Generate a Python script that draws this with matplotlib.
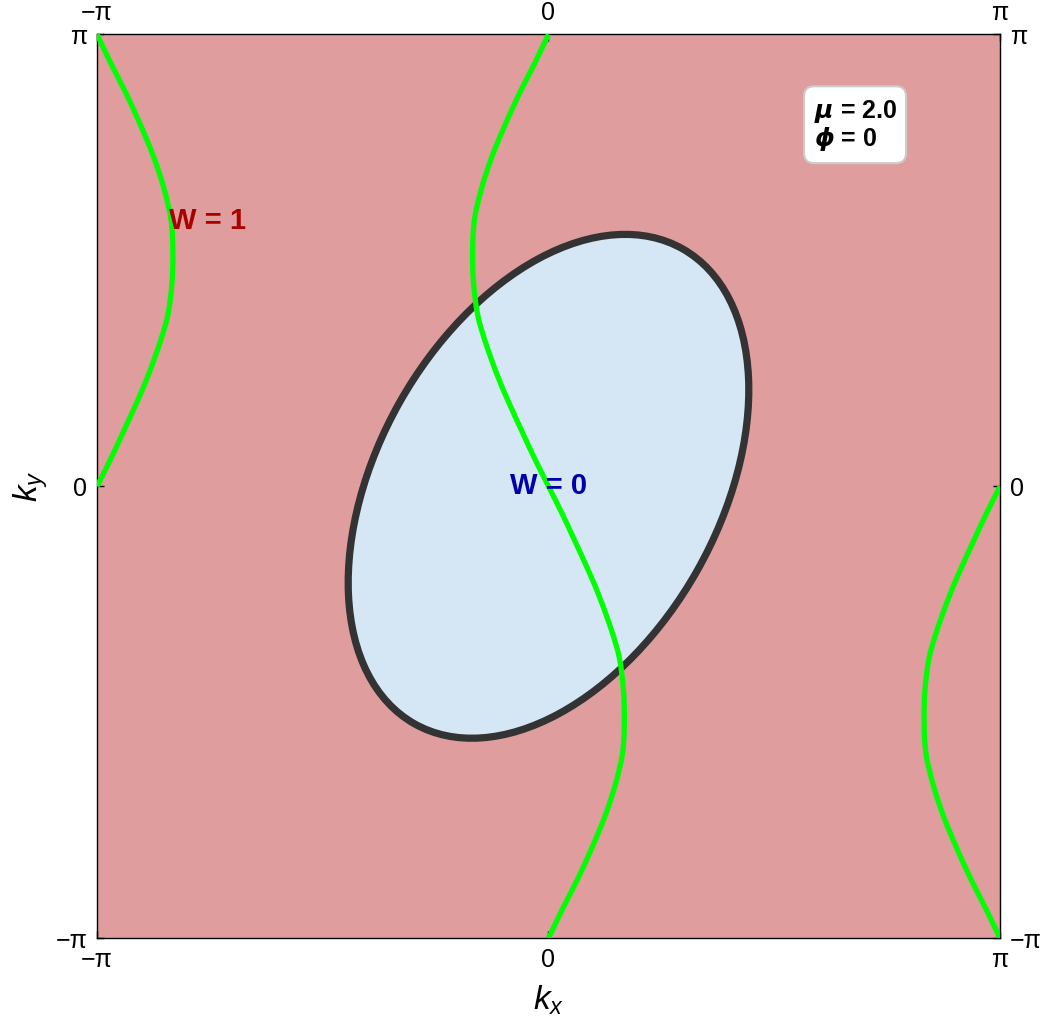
import numpy as np
import matplotlib
matplotlib.use("Agg")
import matplotlib.pyplot as plt
from matplotlib.patches import PathPatch, FancyBboxPatch, Ellipse
from matplotlib.path import Path

plt.rcParams['font.family'] = ['Liberation Sans', 'DejaVu Sans']
plt.rcParams['mathtext.fontset'] = 'custom'
plt.rcParams['mathtext.rm'] = 'Liberation Sans'
plt.rcParams['mathtext.it'] = 'Liberation Sans:italic'
plt.rcParams['mathtext.bfit'] = 'DejaVu Sans:italic:bold'

# all lengths in units of pi
# W = 0 region: tilted ellipse around the origin
ell_center = (0.0, 0.0)
ell_major = 1.207   # full length of long axis
ell_minor = 0.757   # full length of short axis
ell_angle = 60.5    # degrees from kx axis

# upper half of the central green curve (origin -> top edge)
green_kx = [0.0, -0.030, -0.058, -0.090, -0.115, -0.140, -0.157, -0.166, -0.168,
            -0.164, -0.148, -0.125, -0.096, -0.064, -0.031, 0.0]
green_ky = [0.0, 0.06, 0.12, 0.19, 0.25, 0.32, 0.38, 0.45, 0.52,
            0.59, 0.66, 0.73, 0.80, 0.87, 0.935, 1.0]

ticks = [-np.pi, 0, np.pi]
tick_labels = ['\u2212\u03c0', '0', '\u03c0']

pink = '#e09d9e'
blue = '#d5e6f5'
green = '#00ff00'


def smooth_path(x, y):
    # cubic bezier through the read points (Catmull-Rom tangents)
    p = np.column_stack([x, y])
    ext = np.vstack([p[0], p, p[-1]])
    verts = [p[0]]
    codes = [Path.MOVETO]
    for i in range(len(p) - 1):
        p0, p1, p2, p3 = ext[i], ext[i + 1], ext[i + 2], ext[i + 3]
        verts += [p1 + (p2 - p0) / 6, p2 - (p3 - p1) / 6, p2]
        codes += [Path.CURVE4] * 3
    return Path(verts, codes)


fig = plt.figure(figsize=(10.4, 10.24), dpi=100)
ax = fig.add_axes([0.0933, 0.0837, 0.8682, 0.8828])
ax.set_facecolor(pink)

ax.add_patch(Ellipse((ell_center[0] * np.pi, ell_center[1] * np.pi),
                     ell_major * np.pi, ell_minor * np.pi, angle=ell_angle,
                     facecolor=blue, edgecolor='#333333', linewidth=5.2, zorder=2))

gx = np.array(green_kx) * np.pi
gy = np.array(green_ky) * np.pi
cx = np.concatenate([-gx[::-1], gx[1:]])
cy = np.concatenate([-gy[::-1], gy[1:]])
lw = 3.8
for xs, ys in [(cx, cy), (-np.pi - gx, gy), (np.pi + gx, -gy)]:
    ax.add_patch(PathPatch(smooth_path(xs, ys), facecolor='none', edgecolor=green,
                           linewidth=lw, capstyle='butt', zorder=3))

ax.text(-0.755 * np.pi, 0.586 * np.pi, 'W = 1', color='#aa0000', fontsize=21,
        fontweight='bold', ha='center', va='center', zorder=4)
ax.text(0.0, 0.0, 'W = 0', color='#0000aa', fontsize=21,
        fontweight='bold', ha='center', va='center', zorder=4)

box = FancyBboxPatch((0.566 * np.pi, 0.715 * np.pi), 0.226 * np.pi, 0.170 * np.pi,
                     boxstyle='round,pad=0,rounding_size=0.07',
                     facecolor='white', edgecolor='#cccccc', linewidth=1.5, zorder=5)
ax.add_patch(box)
ax.text(0.588 * np.pi, 0.830 * np.pi, r'$\mathbfit{\mu}$ = 2.0', fontsize=18,
        fontweight='bold', ha='left', va='center', zorder=6)
ax.text(0.588 * np.pi, 0.768 * np.pi, r'$\mathbfit{\phi}$ = 0', fontsize=18,
        fontweight='bold', ha='left', va='center', zorder=6)

ax.set_xlim(-np.pi, np.pi)
ax.set_ylim(-np.pi, np.pi)
ax.set_xticks(ticks)
ax.set_xticklabels(tick_labels)
ax.set_yticks(ticks)
ax.set_yticklabels(tick_labels)
ax.tick_params(direction='in', length=5, width=1, labelsize=18, pad=7,
               top=True, right=True, labeltop=True, labelright=True)
for s in ax.spines.values():
    s.set_linewidth(1.0)

ax.set_xlabel(r'$k_x$', fontsize=24, labelpad=8)
ax.set_ylabel(r'$k_y$', fontsize=24, labelpad=4)

fig.savefig('out.png', dpi=100)
